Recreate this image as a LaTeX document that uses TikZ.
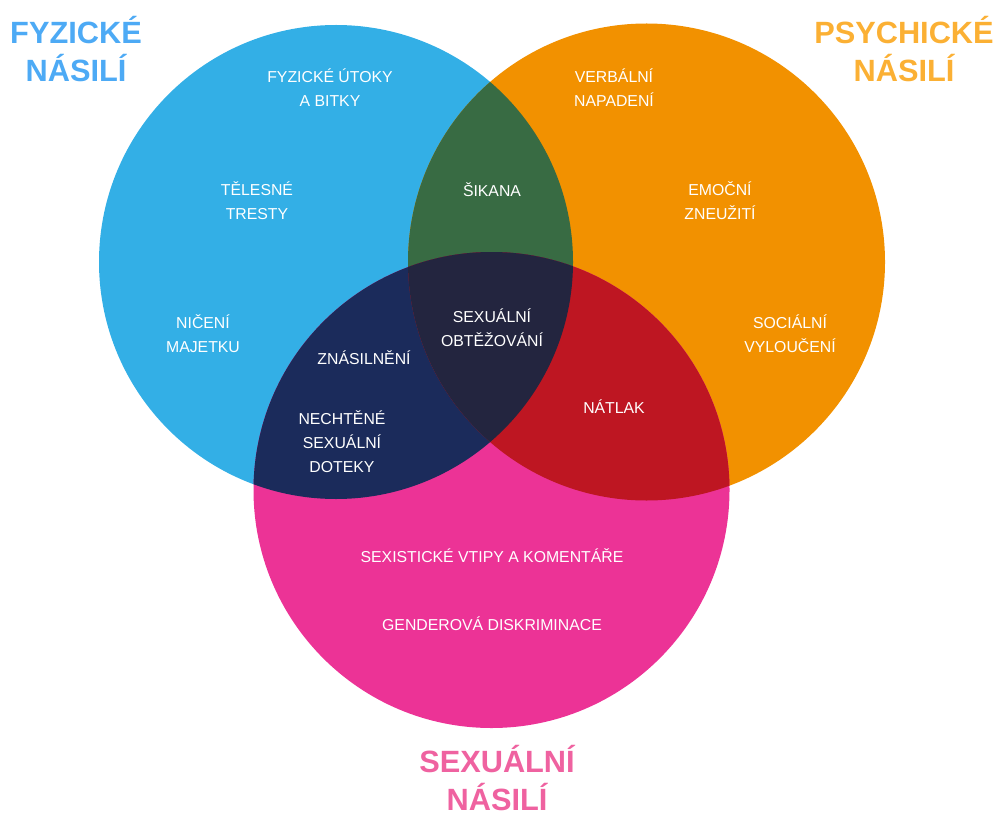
\documentclass[tikz,border=0pt]{standalone}
\usepackage{fontspec}
\setmainfont{Liberation Sans}
\usepackage{tikz}
\usetikzlibrary{positioning}
\definecolor{fyzblue}{HTML}{33AFE6}
\definecolor{psyorange}{HTML}{F29100}
\definecolor{sexpink}{HTML}{EC3396}
\definecolor{bulgreen}{HTML}{386B43}
\definecolor{rapenavy}{HTML}{1B2B5B}
\definecolor{pressred}{HTML}{BE1622}
\definecolor{harassdark}{HTML}{23253F}
\definecolor{fyztitle}{HTML}{4DAAF5}
\definecolor{psytitle}{HTML}{FBB034}
\definecolor{sextitle}{HTML}{EF62A0}
\tikzset
{
    itemlabel/.style = {text=white, align=center, font=\fontsize{9}{13.6}\selectfont},
    heading/.style   = {align=center, inner sep=1pt, font=\fontsize{17.5}{21.4}\selectfont\bfseries}
}

\begin{document}
\begin{tikzpicture}[x=0.02cm, y=-0.02cm]
	\useasboundingbox (0,0) rectangle (1000,814);
	% circle centres
	\coordinate (fyz) at (336,262);
	\coordinate (psy) at (646.5,262);
	\coordinate (sex) at (491.5,490);
	\def\rfyz{237}
	\def\rpsy{238.5}
	\def\rsex{238}
	% circles
	\fill[fyzblue] (fyz) circle[radius=\rfyz];
	\fill[psyorange] (psy) circle[radius=\rpsy];
	\fill[sexpink] (sex) circle[radius=\rsex];
	% overlaps
	\begin{scope}
		\clip (fyz) circle[radius=\rfyz];
		\fill[bulgreen] (psy) circle[radius=\rpsy];
		\fill[rapenavy] (sex) circle[radius=\rsex];
	\end{scope}
	\begin{scope}
		\clip (psy) circle[radius=\rpsy];
		\fill[pressred] (sex) circle[radius=\rsex];
		\clip (fyz) circle[radius=\rfyz];
		\fill[harassdark] (sex) circle[radius=\rsex];
	\end{scope}
	% headings
	\node[heading, text=fyztitle] (fyzhead) at (76,49) {FYZICKÉ\\NÁSILÍ};
	\node[heading, text=psytitle] (psyhead) at (904,49) {PSYCHICKÉ\\NÁSILÍ};
	\node[heading, text=sextitle] (sexhead) at (497,778) {SEXUÁLNÍ\\NÁSILÍ};
	% physical
	\node[itemlabel] (utoky) at (330,88) {FYZICKÉ ÚTOKY\\A BITKY};
	\node[itemlabel] (tresty) at (257,201) {TĚLESNÉ\\TRESTY};
	\node[itemlabel] (majetek) at (203,334) {NIČENÍ\\MAJETKU};
	% psychological
	\node[itemlabel] (verbal) at (614,88) {VERBÁLNÍ\\NAPADENÍ};
	\node[itemlabel] (emocni) at (720,201) {EMOČNÍ\\ZNEUŽITÍ};
	\node[itemlabel] (socialni) at (790,334) {SOCIÁLNÍ\\VYLOUČENÍ};
	% overlaps
	\node[itemlabel] (sikana) at (492,190) {ŠIKANA};
	\node[itemlabel] (obtez) at (492,328) {SEXUÁLNÍ\\OBTĚŽOVÁNÍ};
	\node[itemlabel] (znasil) at (364,358) {ZNÁSILNĚNÍ};
	\node[itemlabel] (doteky) at (342,442) {NECHTĚNÉ\\SEXUÁLNÍ\\DOTEKY};
	\node[itemlabel] (natlak) at (614,407) {NÁTLAK};
	% sexual
	\node[itemlabel] (vtipy) at (492,556) {SEXISTICKÉ VTIPY A KOMENTÁŘE};
	\node[itemlabel] (gender) at (492,624) {GENDEROVÁ DISKRIMINACE};
\end{tikzpicture}
\end{document}
